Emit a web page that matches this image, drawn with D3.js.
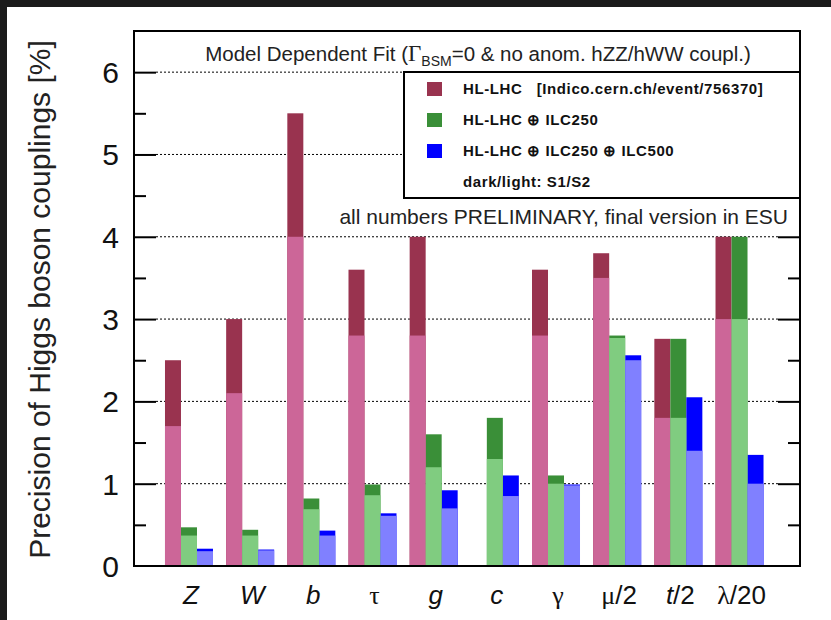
<!DOCTYPE html>
<html>
<head>
<meta charset="utf-8">
<script src="https://cdn.jsdelivr.net/npm/d3@7"></script>
<style>
  body { margin: 0; background: #1b1b1b; }
  svg text { font-family: "Liberation Sans", Arial, sans-serif; }
</style>
</head>
<body>
<div id="barchart"></div>
<script>

var categories = ["Z", "W", "b", "τ", "g", "c", "γ", "μ/2", "t/2", "λ/20"];
var series_names = ["hllhc", "ilc250", "ilc500"];

// S1 (dark) and S2 (light) values per scenario, in %
var hllhc_s1  = [2.5, 3.0, 5.5, 3.6, 4.0, null, 3.6, 3.8, 2.76, 4.0];
var hllhc_s2  = [1.7, 2.1, 4.0, 2.8, 2.8, null, 2.8, 3.5, 1.8, 3.0];
var ilc250_s1 = [0.47, 0.44, 0.82, 0.99, 1.6, 1.8, 1.1, 2.8, 2.76, 4.0];
var ilc250_s2 = [0.37, 0.37, 0.69, 0.86, 1.2, 1.3, 1.0, 2.77, 1.8, 3.0];
var ilc500_s1 = [0.21, 0.20, 0.43, 0.64, 0.92, 1.1, 0.99, 2.56, 2.05, 1.35];
var ilc500_s2 = [0.18, 0.19, 0.37, 0.61, 0.70, 0.85, 0.98, 2.5, 1.4, 1.0];

var y_ticks = [0, 1, 2, 3, 4, 5, 6];

var colors_dark  = {"hllhc": "#99334f", "ilc250": "#3a8f38", "ilc500": "#0000ff"};
var colors_light = {"hllhc": "#cc6698", "ilc250": "#80cc80", "ilc500": "#8080ff"};

var full_width = 831, full_height = 620;
var frame = {"left": 134, "right": 800, "top": 31, "bottom": 566};


function getBarData(){

    var rows = [];
    var s1 = {"hllhc": hllhc_s1, "ilc250": ilc250_s1, "ilc500": ilc500_s1};
    var s2 = {"hllhc": hllhc_s2, "ilc250": ilc250_s2, "ilc500": ilc500_s2};

    categories.forEach((c, i) => {
        series_names.forEach(s => {
            if (s1[s][i] == null) return;
            rows.push({"cat": c, "series": s, "s1": s1[s][i], "s2": s2[s][i]});
        });
    });
    return rows;
}


function createBarChart(){

    var data = getBarData();

    var svg = d3.select("#barchart")
                .append("svg")
                .attr("width", full_width)
                .attr("height", full_height);

    // dark photo border, white page
    svg.append("rect").attr("width", full_width).attr("height", full_height).attr("fill", "#1b1b1b");
    svg.append("rect").attr("x", 7).attr("y", 7)
       .attr("width", full_width - 7).attr("height", full_height - 7).attr("fill", "#fff");

    var y = d3.scaleLinear()
              .domain([0, 6.5])
              .range([frame.bottom, frame.top]);

    var x = d3.scaleBand()
              .domain(categories)
              .range([158.4, 770.1])
              .padding(0);

    var xs = d3.scaleBand()
               .domain(series_names)
               .range([x.bandwidth()/2 - 24, x.bandwidth()/2 + 24]);

    // dotted grid lines
    svg.append("g")
       .selectAll("line")
       .data(y_ticks.filter(d => d > 0))
       .enter().append("line")
       .attr("x1", frame.left + 22)
       .attr("x2", frame.right - 22)
       .attr("y1", d => y(d))
       .attr("y2", d => y(d))
       .attr("stroke", "#000")
       .attr("stroke-width", 1)
       .attr("stroke-dasharray", "2,2");

    // bars: dark = S1, light = S2 on top
    var groups = svg.append("g");

    groups.selectAll(".bar-s1")
          .data(data)
          .enter().append("rect")
          .attr("class", "bar-s1")
          .attr("x", d => x(d.cat) + xs(d.series))
          .attr("width", xs.bandwidth())
          .attr("y", d => y(d.s1))
          .attr("height", d => y(0) - y(d.s1))
          .attr("fill", d => colors_dark[d.series]);

    groups.selectAll(".bar-s2")
          .data(data)
          .enter().append("rect")
          .attr("class", "bar-s2")
          .attr("x", d => x(d.cat) + xs(d.series))
          .attr("width", xs.bandwidth())
          .attr("y", d => y(d.s2))
          .attr("height", d => y(0) - y(d.s2))
          .attr("fill", d => colors_light[d.series]);

    // y axes, left and right, with major and minor ticks
    var minor = d3.range(0.5, 6.5, 1);

    var axisL = svg.append("g").attr("transform", "translate(" + frame.left + ",0)");
    axisL.call(d3.axisRight(y).tickValues(y_ticks.slice(1)).tickSize(22).tickFormat(""));
    axisL.append("g").call(d3.axisRight(y).tickValues(minor).tickSize(12).tickFormat(""));

    var axisR = svg.append("g").attr("transform", "translate(" + frame.right + ",0)");
    axisR.call(d3.axisLeft(y).tickValues(y_ticks.slice(1)).tickSize(22).tickFormat(""));
    axisR.append("g").call(d3.axisLeft(y).tickValues(minor).tickSize(12).tickFormat(""));

    svg.selectAll(".domain").remove();
    svg.selectAll(".tick line").attr("stroke", "#000").attr("stroke-width", 2);

    // tick labels
    svg.append("g")
       .selectAll("text")
       .data(y_ticks)
       .enter().append("text")
       .attr("x", frame.left - 15)
       .attr("y", d => y(d) + 11)
       .attr("text-anchor", "end")
       .attr("font-size", 30)
       .attr("fill", "#111")
       .text(d => d);

    // x labels
    var xl = svg.append("g")
                .selectAll("text")
                .data(categories)
                .enter().append("text")
                .attr("x", d => x(d) + x.bandwidth()/2 + 2)
                .attr("y", 604)
                .attr("text-anchor", "middle")
                .attr("font-size", 26)
                .attr("fill", "#111");

    xl.each(function(d){
        var greek = /[τγμλ]/.test(d[0]);
        var t = d3.select(this);
        t.append("tspan")
         .attr("font-family", greek ? "'Liberation Serif', serif" : null)
         .attr("font-style", greek ? "normal" : "italic")
         .text(d[0]);
        if (d.length > 1)
            t.append("tspan").text(d.slice(1));
    });

    // y axis title
    svg.append("text")
       .attr("transform", "translate(50," + ((frame.top + frame.bottom)/2 + 1) + ") rotate(-90)")
       .attr("text-anchor", "middle")
       .attr("font-size", 30)
       .attr("fill", "#222")
       .text("Precision of Higgs boson couplings [%]");

    // title inside frame
    var title = svg.append("text")
                   .attr("x", 478)
                   .attr("y", 61)
                   .attr("text-anchor", "middle")
                   .attr("font-size", 20.5)
                   .attr("fill", "#222");
    title.append("tspan").text("Model Dependent Fit (");
    title.append("tspan").attr("font-family", "'Liberation Serif', serif").attr("font-size", 23).text("Γ");
    title.append("tspan").attr("font-size", 14).attr("dy", 5).text("BSM");
    title.append("tspan").attr("dy", -5).text("=0 & no anom. hZZ/hWW coupl.)");

    // legend box
    var lg = svg.append("g");
    lg.append("rect")
      .attr("x", 404).attr("y", 72)
      .attr("width", frame.right - 404).attr("height", 198 - 72)
      .attr("fill", "#fff").attr("stroke", "#000").attr("stroke-width", 2);

    var legend_rows = [
        {"s": "hllhc", "label": "HL-LHC   [Indico.cern.ch/event/756370]"},
        {"s": "ilc250", "label": "HL-LHC ⊕ ILC250"},
        {"s": "ilc500", "label": "HL-LHC ⊕ ILC250 ⊕ ILC500"},
        {"s": null, "label": "dark/light: S1/S2"}
    ];

    legend_rows.forEach((r, i) => {
        var cy = 89 + i * 31;
        if (r.s)
            lg.append("rect").attr("x", 427).attr("y", cy - 7)
              .attr("width", 15).attr("height", 14).attr("fill", colors_dark[r.s]);
        lg.append("text")
          .attr("x", 463).attr("y", cy + 5)
          .attr("font-size", 15).attr("font-weight", "bold").attr("fill", "#111")
          .attr("letter-spacing", 0.6)
          .style("white-space", "pre")
          .text(r.label);
    });

    svg.append("text")
       .attr("x", 788).attr("y", 224)
       .attr("text-anchor", "end")
       .attr("font-size", 21)
       .attr("fill", "#222")
       .text("all numbers PRELIMINARY, final version in ESU");

    // frame
    svg.append("rect")
       .attr("x", frame.left).attr("y", frame.top)
       .attr("width", frame.right - frame.left).attr("height", frame.bottom - frame.top)
       .attr("fill", "none").attr("stroke", "#000").attr("stroke-width", 2);
}

createBarChart();

</script>
</body>
</html>
